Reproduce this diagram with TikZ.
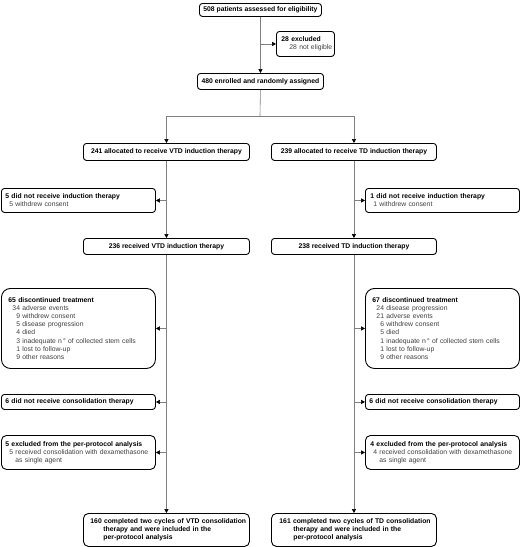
\documentclass[tikz,border=0pt]{standalone}
\usepackage{fontspec}
\setmainfont{Liberation Sans}
\usetikzlibrary{arrows.meta}
\newcommand\cItem[2]{\hspace*{9pt}\makebox[7.6pt][r]{#1}~#2}
\newcommand\hs[1]{\hspace*{#1pt}}
\begin{document}
\begin{tikzpicture}[x=1pt,y=-1pt,
  box/.style={draw=black, line width=0.9pt, rounded corners=3pt, fill=white,
    font=\fontsize{6.8}{8.1}\selectfont\bfseries, inner ysep=0pt, anchor=north west},
  cbox/.style={box, align=center, inner xsep=0pt},
  lbox/.style={box, align=left, inner xsep=2pt},
  conn/.style={draw=black!50, line width=0.6pt},
  arr/.style={conn, -{Triangle[length=4pt,width=4.2pt,color=black]}}]
\useasboundingbox (0,0) rectangle (520,547);
\def\sb#1{{\mdseries\color{black!75}#1}}
% top
\node[cbox, minimum width=122pt, minimum height=13pt] (top) at (199,3) {508 patients assessed for eligibility};
\node[lbox, minimum height=25pt, text width=54pt] (exc) at (276,31)
  {\hs{3}28 excluded\\\sb{\hs{11}28 not eligible}};
\node[cbox, minimum width=126pt, minimum height=16pt] (enr) at (197,73) {480 enrolled and randomly assigned};
% allocation
\node[cbox, minimum width=166pt, minimum height=17pt] (avtd) at (83,143) {241 allocated to receive VTD induction therapy};
\node[cbox, minimum width=165pt, minimum height=17pt] (atd) at (271,143) {239 allocated to receive TD induction therapy};
% did not receive induction
\node[lbox, minimum height=24pt, text width=150pt] (nivtd) at (1,188)
  {\hs{2}5 did not receive induction therapy\\\sb{\hs{6}5 withdrew consent}};
\node[lbox, minimum height=24pt, text width=150pt] (nitd) at (365,188)
  {\hs{3}1 did not receive induction therapy\\\sb{\hs{6}1 withdrew consent}};
% received
\node[cbox, minimum width=166pt, minimum height=16pt] (rvtd) at (83,238) {236 received VTD induction therapy};
\node[cbox, minimum width=165pt, minimum height=16pt] (rtd) at (271,238) {238 received TD induction therapy};
% discontinued
\node[lbox, rounded corners=9pt, minimum height=80pt, text width=150pt] (dvtd) at (1,288)
  {\hs{5}65 discontinued treatment\\
   \sb{\cItem{34}{adverse events}}\\
   \sb{\cItem{9}{withdrew consent}}\\
   \sb{\cItem{5}{disease progression}}\\
   \sb{\cItem{4}{died}}\\
   \sb{\cItem{3}{inadequate n\,° of collected stem cells}}\\
   \sb{\cItem{1}{lost to follow-up}}\\
   \sb{\cItem{9}{other reasons}}};
\node[lbox, rounded corners=9pt, minimum height=80pt, text width=150pt] (dtd) at (365,288)
  {\hs{5}67 discontinued treatment\\
   \sb{\cItem{24}{disease progression}}\\
   \sb{\cItem{21}{adverse events}}\\
   \sb{\cItem{6}{withdrew consent}}\\
   \sb{\cItem{5}{died}}\\
   \sb{\cItem{1}{inadequate n\,° of collected stem cells}}\\
   \sb{\cItem{1}{lost to follow-up}}\\
   \sb{\cItem{9}{other reasons}}};
% consolidation not received
\node[lbox, minimum height=15pt, text width=150pt] (ncvtd) at (1,394)
  {\hs{2}6 did not receive consolidation therapy};
\node[lbox, minimum height=15pt, text width=150pt] (nctd) at (365,394)
  {\hs{2}6 did not receive consolidation therapy};
% excluded per protocol
\node[lbox, rounded corners=5pt, minimum height=34pt, text width=150pt] (epvtd) at (1,435)
  {\hs{2}5 excluded from the per-protocol analysis\\
   \sb{\hs{6}5 received consolidation with dexamethasone}\\
   \sb{\hs{12}as single agent}};
\node[lbox, rounded corners=5pt, minimum height=34pt, text width=150pt] (eptd) at (365,435)
  {\hs{3}4 excluded from the per-protocol analysis\\
   \sb{\hs{6}4 received consolidation with dexamethasone}\\
   \sb{\hs{12}as single agent}};
% final
\node[lbox, rounded corners=5pt, minimum height=33pt, text width=162pt] (fvtd) at (83,513)
  {\hs{5}160 completed two cycles of VTD consolidation\\
   \hs{18}therapy and were included in the\\
   \hs{18}per-protocol analysis};
\node[lbox, rounded corners=5pt, minimum height=33pt, text width=161pt] (ftd) at (271,513)
  {\hs{6}161 completed two cycles of TD consolidation\\
   \hs{20}therapy and were included in the\\
   \hs{20}per-protocol analysis};
% connectors
\draw[arr] (top.south) -- (enr.north);
\draw[arr] (top.south |- exc.west) -- (exc.west);
\coordinate (split) at (260,116);
\draw[conn] (enr.south) -- (split);
\draw[arr] (split) -| (avtd.north);
\draw[arr] (split) -| (atd.north);
\draw[arr] (avtd.south) -- (rvtd.north);
\draw[arr] (atd.south) -- (rtd.north);
\draw[arr] (avtd.south |- nivtd.east) -- (nivtd.east);
\draw[arr] (atd.south |- nitd.west) -- (nitd.west);
\draw[arr] (rvtd.south) -- (fvtd.north);
\draw[arr] (rtd.south) -- (ftd.north);
\draw[arr] (rvtd.south |- dvtd.east) -- (dvtd.east);
\draw[arr] (rtd.south |- dtd.west) -- (dtd.west);
\draw[arr] (rvtd.south |- ncvtd.east) -- (ncvtd.east);
\draw[arr] (rtd.south |- nctd.west) -- (nctd.west);
\draw[arr] (rvtd.south |- epvtd.east) -- (epvtd.east);
\draw[arr] (rtd.south |- eptd.west) -- (eptd.west);
\end{tikzpicture}
\end{document}
